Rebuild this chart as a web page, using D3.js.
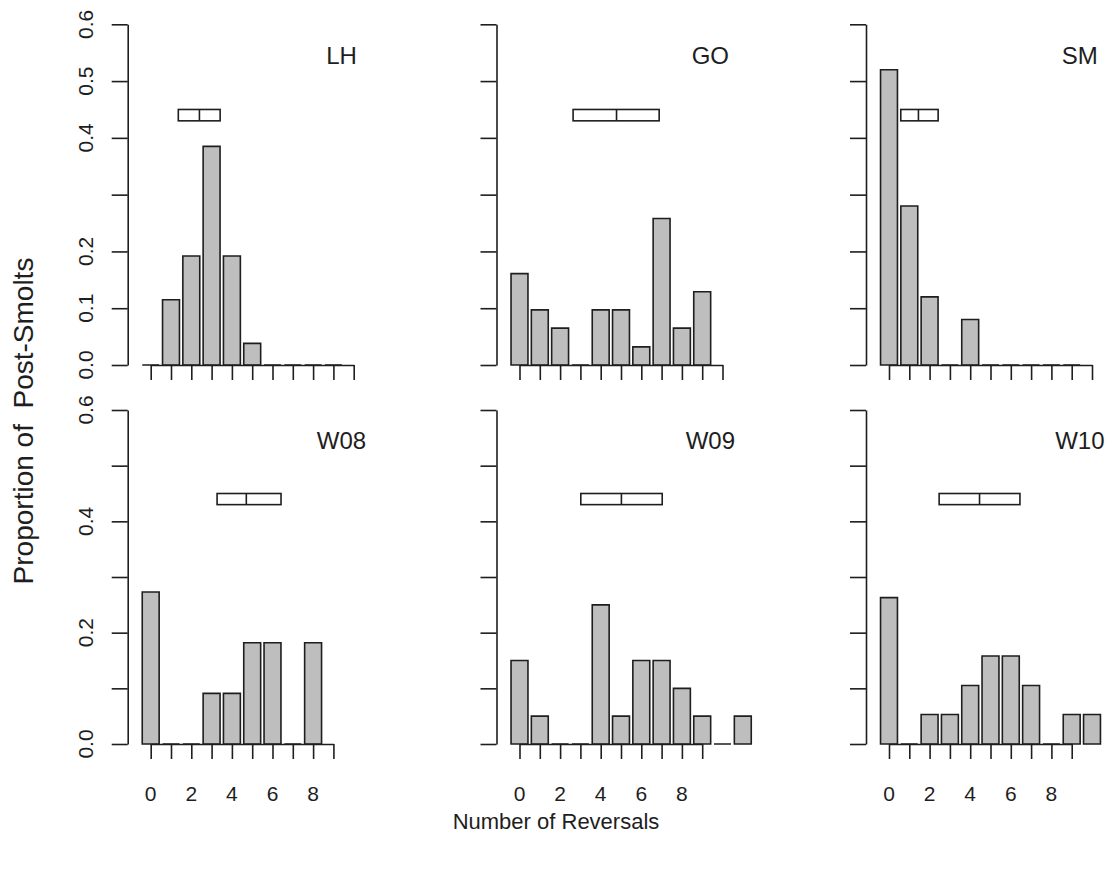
<!DOCTYPE html>
<html>
<head>
<meta charset="utf-8">
<script src="https://cdn.jsdelivr.net/npm/d3@7"></script>
<style>
  html, body { margin: 0; padding: 0; background: #fff; }
  svg { display: block; }
  text { font-family: "Liberation Sans", Arial, Helvetica, sans-serif; fill: #1e1e1e; }
</style>
</head>
<body>
<svg id="chart" width="1110" height="869"></svg>
<script>
// Proportion of post-smolts by number of reversals (index = reversals)
const sites = ["LH", "GO", "SM", "W08", "W09", "W10"];
const propLH  = [0, 0.115, 0.192, 0.385, 0.192, 0.038, 0, 0, 0, 0];
const propGO  = [0.161, 0.097, 0.065, 0, 0.097, 0.097, 0.032, 0.258, 0.065, 0.129];
const propSM  = [0.52, 0.28, 0.12, 0, 0.08, 0, 0, 0, 0, 0];
const propW08 = [0.273, 0, 0, 0.091, 0.091, 0.182, 0.182, 0, 0.182];
const propW09 = [0.15, 0.05, 0, 0, 0.25, 0.05, 0.15, 0.15, 0.10, 0.05, 0, 0.05];
const propW10 = [0.263, 0, 0.053, 0.053, 0.105, 0.158, 0.158, 0.105, 0, 0.053, 0.053];

// Summary box for each site: [lower, centre, upper] in reversals
const boxLH  = [1.36, 2.40, 3.42];
const boxGO  = [2.64, 4.78, 6.88];
const boxSM  = [0.58, 1.45, 2.42];
const boxW08 = [3.27, 4.71, 6.42];
const boxW09 = [3.02, 5.02, 7.03];
const boxW10 = [2.47, 4.46, 6.45];

// Number of x-axis ticks per panel
const tickCounts = [11, 11, 11, 10, 10, 10];

// Y-axis tick values and labels (top row, bottom row)
const yTickValues = [0, 0.1, 0.2, 0.3, 0.4, 0.5, 0.6];
const yLabelsTop    = ["0.0", "0.1", "0.2", "", "0.4", "0.5", "0.6"];
const yLabelsBottom = ["0.0", "", "0.2", "", "0.4", "", "0.6"];
const xLabelsBottom = ["0", "", "2", "", "4", "", "6", "", "8", ""];

const yTitle = "Proportion of  Post-Smolts";
const xTitle = "Number of Reversals";

const props = [propLH, propGO, propSM, propW08, propW09, propW10];
const boxes = [boxLH, boxGO, boxSM, boxW08, boxW09, boxW10];

const svg = d3.select("#chart");
const INK = "#1e1e1e";
const LW = 1.6;

const axisX = [127.7, 496.5, 866];
const rows = [
  { y0: 365, y1: 24.3 },
  { y0: 744, y1: 410 }
];
const firstOffset = 23;
const step = 20.3;

sites.forEach((site, i) => {
  const row = Math.floor(i / 3), col = i % 3;
  const ax = axisX[col];
  const nT = tickCounts[i];

  const y = d3.scaleLinear().domain([0, 0.6]).range([rows[row].y0, rows[row].y1]);
  const x = d3.scaleLinear()
    .domain([0, nT - 1])
    .range([ax + firstOffset, ax + firstOffset + step * (nT - 1)]);
  const bw = (x(1) - x(0)) / 1.2;

  const g = svg.append("g");

  // bars (zero-height bars still show as an outline along the baseline)
  g.selectAll("path.bar")
    .data(props[i])
    .join("path")
    .attr("class", "bar")
    .attr("d", (v, k) => {
      const x0 = x(k) - bw / 2, x1 = x(k) + bw / 2;
      return `M${x0},${y(0)}H${x1}V${y(v)}H${x0}Z`;
    })
    .attr("fill", "#bebebe")
    .attr("stroke", INK)
    .attr("stroke-width", LW)
    .attr("stroke-linejoin", "miter");

  // y axis
  const yAxis = d3.axisLeft(y)
    .tickValues(yTickValues)
    .tickSize(16)
    .tickSizeOuter(0)
    .tickFormat("");
  const gy = g.append("g").attr("transform", `translate(${ax},0)`).call(yAxis);

  // x axis at y = 0
  const xAxis = d3.axisBottom(x)
    .tickValues(d3.range(nT))
    .tickSize(15)
    .tickSizeOuter(0)
    .tickFormat("");
  const gx = g.append("g").attr("transform", `translate(0,${y(0)})`).call(xAxis);

  [gy, gx].forEach(a => {
    a.selectAll("path.domain").attr("stroke", INK).attr("stroke-width", LW);
    a.selectAll(".tick line").attr("stroke", INK).attr("stroke-width", LW);
  });

  // rotated y tick labels on the left column
  if (col === 0) {
    const labs = row === 0 ? yLabelsTop : yLabelsBottom;
    g.selectAll("text.ylab")
      .data(yTickValues)
      .join("text")
      .attr("class", "ylab")
      .attr("transform", v => `translate(${ax - 35},${y(v)}) rotate(-90)`)
      .attr("text-anchor", "middle")
      .attr("font-size", 21)
      .text((v, k) => labs[k]);
  }

  // x tick labels on the bottom row
  if (row === 1) {
    g.selectAll("text.xlab")
      .data(d3.range(nT))
      .join("text")
      .attr("class", "xlab")
      .attr("x", k => x(k))
      .attr("y", y(0) + 56.5)
      .attr("text-anchor", "middle")
      .attr("font-size", 21)
      .text(k => xLabelsBottom[k] || "");
  }

  // summary box
  const [lo, mid, hi] = boxes[i];
  g.append("rect")
    .attr("x", x(lo))
    .attr("y", y(0.45))
    .attr("width", x(hi) - x(lo))
    .attr("height", y(0.43) - y(0.45))
    .attr("fill", "#fff")
    .attr("stroke", INK)
    .attr("stroke-width", LW);
  g.append("line")
    .attr("x1", x(mid)).attr("x2", x(mid))
    .attr("y1", y(0.45)).attr("y2", y(0.43))
    .attr("stroke", INK)
    .attr("stroke-width", LW);

  // site label
  g.append("text")
    .attr("x", x(9.4))
    .attr("y", y(0.545) + 8.5)
    .attr("text-anchor", "middle")
    .attr("font-size", 24)
    .text(site);
});

// axis titles
svg.append("text")
  .attr("transform", "translate(33,421) rotate(-90)")
  .attr("text-anchor", "middle")
  .attr("font-size", 28)
  .style("white-space", "pre")
  .text(yTitle);

svg.append("text")
  .attr("x", 556)
  .attr("y", 829)
  .attr("text-anchor", "middle")
  .attr("font-size", 22)
  .text(xTitle);
</script>
</body>
</html>
